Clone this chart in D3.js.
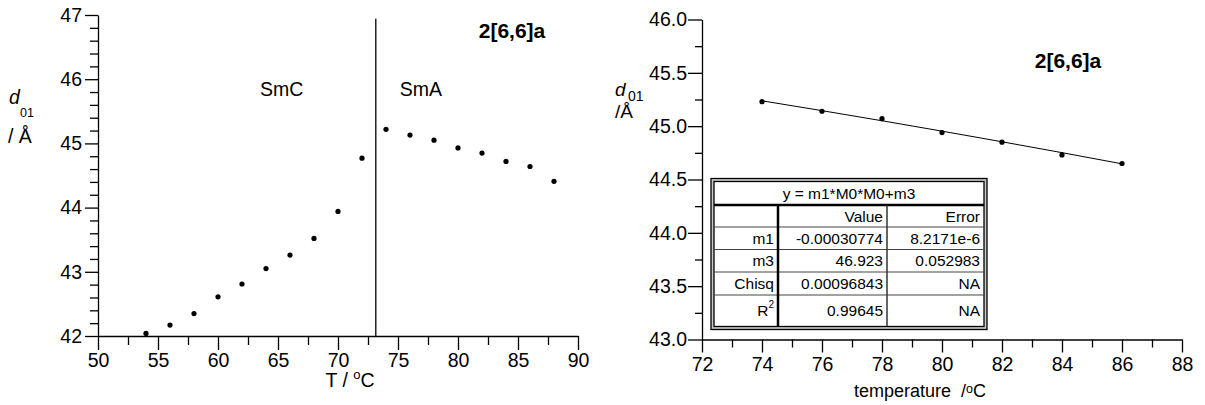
<!DOCTYPE html>
<html>
<head>
<meta charset="utf-8">
<script src="https://cdn.jsdelivr.net/npm/d3@7/dist/d3.min.js"></script>
<style>
  html, body { margin: 0; padding: 0; background: #fff; }
  svg { display: block; font-family: "Liberation Sans", Arial, sans-serif; }
</style>
</head>
<body>
<svg id="chart" width="1205" height="405"></svg>
<script>
// ---------- data ----------
const tempsLeft = [54, 56, 58, 60, 62, 64, 66, 68, 70, 72, 74, 76, 78, 80, 82, 84, 86, 88];
const dLeft = [42.04, 42.17, 42.35, 42.61, 42.81, 43.05, 43.26, 43.52, 43.94, 44.77,
               45.22, 45.13, 45.05, 44.93, 44.85, 44.72, 44.64, 44.41];
const transitionT = 73.15;
const phaseLabels = ["SmC", "SmA"];
const phaseLabelT = [65.3, 76.9];
const sampleName = "2[6,6]a";

const tempsRight = [74, 76, 78, 80, 82, 84, 86];
const dRight = [45.23, 45.14, 45.07, 44.94, 44.85, 44.73, 44.65];

const leftXTicks = [50, 55, 60, 65, 70, 75, 80, 85, 90];
const leftYTicks = [42, 43, 44, 45, 46, 47];
const rightXTicks = [72, 74, 76, 78, 80, 82, 84, 86, 88];
const rightYTicks = [43.0, 43.5, 44.0, 44.5, 45.0, 45.5, 46.0];

const fitEquation = "y = m1*M0*M0+m3";
const fitM1 = -0.00030774;
const fitM3 = 46.923;
const tableHeader = ["", "Value", "Error"];
const tableRowNames = ["m1", "m3", "Chisq", "R2"];
const tableValues = ["-0.00030774", "46.923", "0.00096843", "0.99645"];
const tableErrors = ["8.2171e-6", "0.052983", "NA", "NA"];

// ---------- drawing ----------
const svg = d3.select("#chart");
const tickFont = 19.5;

function styleAxis(g) {
  g.selectAll("path.domain").attr("stroke", "#000").attr("stroke-width", 1.3);
  g.selectAll(".tick line").attr("stroke", "#000").attr("stroke-width", 1.3);
  g.selectAll("text").attr("font-size", tickFont).attr("fill", "#000")
    .attr("font-family", "'Liberation Sans', Arial, sans-serif");
}

// ===== Left chart =====
const xL = d3.scaleLinear().domain([50, 90]).range([98, 578]);
const yL = d3.scaleLinear().domain([42, 47]).range([336, 15]);

const gL = svg.append("g");
// minor ticks
gL.append("g").attr("transform", `translate(0,${yL(42)})`)
  .call(d3.axisBottom(xL).tickValues(d3.range(52.5, 90, 5)).tickSize(9).tickFormat("").tickSizeOuter(0))
  .call(g => g.select("path.domain").remove()).call(styleAxis);
gL.append("g").attr("transform", `translate(${xL(50)},0)`)
  .call(d3.axisLeft(yL).tickValues(d3.range(42, 47.001, 0.2).filter(v => Math.abs(v - Math.round(v)) > 0.01))
    .tickSize(8).tickFormat("").tickSizeOuter(0))
  .call(g => g.select("path.domain").remove()).call(styleAxis);
// major ticks
gL.append("g").attr("transform", `translate(0,${yL(42)})`)
  .call(d3.axisBottom(xL).tickValues(leftXTicks).tickSize(14).tickPadding(3).tickFormat(d3.format("d")).tickSizeOuter(0))
  .call(styleAxis);
gL.append("g").attr("transform", `translate(${xL(50)},0)`)
  .call(d3.axisLeft(yL).tickValues(leftYTicks).tickSize(13).tickPadding(3).tickFormat(d3.format("d")).tickSizeOuter(0))
  .call(styleAxis);

// transition line
gL.append("line")
  .attr("x1", xL(transitionT)).attr("x2", xL(transitionT))
  .attr("y1", yL(46.94)).attr("y2", yL(42))
  .attr("stroke", "#000").attr("stroke-width", 1.3);

gL.selectAll("circle.pt").data(tempsLeft).join("circle")
  .attr("cx", d => xL(d)).attr("cy", (d, i) => yL(dLeft[i])).attr("r", 2.6).attr("fill", "#000");

gL.selectAll("text.phase").data(phaseLabels).join("text")
  .attr("x", (d, i) => xL(phaseLabelT[i])).attr("y", 96)
  .attr("font-size", 19.5).attr("text-anchor", "middle").text(d => d);

gL.append("text").attr("x", 512).attr("y", 38).attr("text-anchor", "middle")
  .attr("font-size", 21).attr("font-weight", "bold").text(sampleName);

// axis titles
const tL = gL.append("text").attr("x", 350).attr("y", 387).attr("text-anchor", "middle").attr("font-size", 19.5);
tL.append("tspan").text("T / ");
tL.append("tspan").attr("font-size", 13).attr("dy", -8).text("o");
tL.append("tspan").attr("dy", 8).text("C");

gL.append("text").attr("x", 9).attr("y", 104).attr("font-size", 19.5).attr("font-style", "italic").text("d");
gL.append("text").attr("x", 20).attr("y", 117).attr("font-size", 12.5).text("01");
gL.append("text").attr("x", 8).attr("y", 143).attr("font-size", 19.5).text("/ Å");

// ===== Right chart =====
const xR = d3.scaleLinear().domain([72, 88]).range([702, 1182]);
const yR = d3.scaleLinear().domain([43, 46]).range([339.5, 19.5]);
const gR = svg.append("g");

gR.append("g").attr("transform", `translate(0,${yR(43)})`)
  .call(d3.axisBottom(xR).tickValues(d3.range(73, 88, 2)).tickSize(8).tickFormat("").tickSizeOuter(0))
  .call(g => g.select("path.domain").remove()).call(styleAxis);
gR.append("g").attr("transform", `translate(${xR(72)},0)`)
  .call(d3.axisLeft(yR).tickValues(d3.range(43.25, 46, 0.5)).tickSize(7).tickFormat("").tickSizeOuter(0))
  .call(g => g.select("path.domain").remove()).call(styleAxis);
gR.append("g").attr("transform", `translate(0,${yR(43)})`)
  .call(d3.axisBottom(xR).tickValues(rightXTicks).tickSize(13).tickPadding(5).tickFormat(d3.format("d")).tickSizeOuter(0))
  .call(styleAxis);
gR.append("g").attr("transform", `translate(${xR(72)},0)`)
  .call(d3.axisLeft(yR).tickValues(rightYTicks).tickSize(14).tickPadding(1).tickFormat(d3.format(".1f")).tickSizeOuter(0))
  .call(styleAxis);

// fit curve from fitted parameters
const fitLine = d3.line().x(d => xR(d)).y(d => yR(fitM1 * d * d + fitM3));
gR.append("path").datum(tempsRight).attr("d", fitLine)
  .attr("fill", "none").attr("stroke", "#000").attr("stroke-width", 1);

gR.selectAll("circle.pt").data(tempsRight).join("circle")
  .attr("cx", d => xR(d)).attr("cy", (d, i) => yR(dRight[i])).attr("r", 2.6).attr("fill", "#000");

gR.append("text").attr("x", 1068).attr("y", 68).attr("text-anchor", "middle")
  .attr("font-size", 21).attr("font-weight", "bold").text(sampleName);

const tR = gR.append("text").attr("x", 920).attr("y", 397).attr("text-anchor", "middle").attr("font-size", 18);
tR.append("tspan").text("temperature\u00a0\u00a0/");
tR.append("tspan").attr("font-size", 12.5).attr("dy", -4).text("o");
tR.append("tspan").attr("dy", 4).text("C");

gR.append("text").attr("x", 615).attr("y", 96).attr("font-size", 19).attr("font-style", "italic").text("d");
gR.append("text").attr("x", 628).attr("y", 101).attr("font-size", 14).text("01");
gR.append("text").attr("x", 615).attr("y", 118).attr("font-size", 19).text("/Å");

// ---------- fit table ----------
const tb = gR.append("g");
const tx0 = 711, tx1 = 987, ty0 = 178.5, ty1 = 329.5;
const ix0 = 714, ix1 = 984, iy0 = 181.5, iy1 = 326.5;
const colX = [ix0, 778, 887, ix1];
const rowY = [iy0, 205, 227, 249.5, 272, 295, iy1];

tb.append("rect").attr("x", tx0).attr("y", ty0).attr("width", tx1 - tx0).attr("height", ty1 - ty0)
  .attr("fill", "#c8c8c8").attr("stroke", "#000").attr("stroke-width", 1.3);
tb.append("rect").attr("x", ix0).attr("y", iy0).attr("width", ix1 - ix0).attr("height", iy1 - iy0)
  .attr("fill", "#fff").attr("stroke", "#000").attr("stroke-width", 1.3);

tb.selectAll("line.h").data(rowY.slice(1, -1)).join("line")
  .attr("x1", ix0).attr("x2", ix1).attr("y1", d => d).attr("y2", d => d)
  .attr("stroke", (d, i) => i === 0 ? "#000" : "#444")
  .attr("stroke-width", (d, i) => i === 0 ? 2.5 : 1);
tb.selectAll("line.v").data([colX[1], colX[2]]).join("line")
  .attr("x1", d => d).attr("x2", d => d).attr("y1", rowY[1]).attr("y2", iy1)
  .attr("stroke", (d, i) => i === 0 ? "#000" : "#333")
  .attr("stroke-width", (d, i) => i === 0 ? 2.5 : 1.5);

const tfs = 15.5;
tb.append("text").attr("x", (ix0 + ix1) / 2).attr("y", (rowY[0] + rowY[1]) / 2 + 5.5)
  .attr("text-anchor", "middle").attr("font-size", tfs).text(fitEquation);

tb.selectAll("text.hdr").data(tableHeader).join("text")
  .attr("x", (d, i) => colX[i + 1] - 4).attr("y", (rowY[1] + rowY[2]) / 2 + 5.5)
  .attr("text-anchor", "end").attr("font-size", tfs).text(d => d);

tableRowNames.forEach((name, r) => {
  const yc = (rowY[r + 2] + rowY[r + 3]) / 2 + 5.5;
  const cellTexts = [name, tableValues[r], tableErrors[r]];
  cellTexts.forEach((txt, c) => {
    const t = tb.append("text").attr("x", colX[c + 1] - 4).attr("y", yc)
      .attr("text-anchor", "end").attr("font-size", tfs);
    if (txt === "R2") {
      t.append("tspan").text("R");
      t.append("tspan").attr("font-size", 10).attr("dy", -8).text("2");
    } else {
      t.text(txt);
    }
  });
});
</script>
</body>
</html>
